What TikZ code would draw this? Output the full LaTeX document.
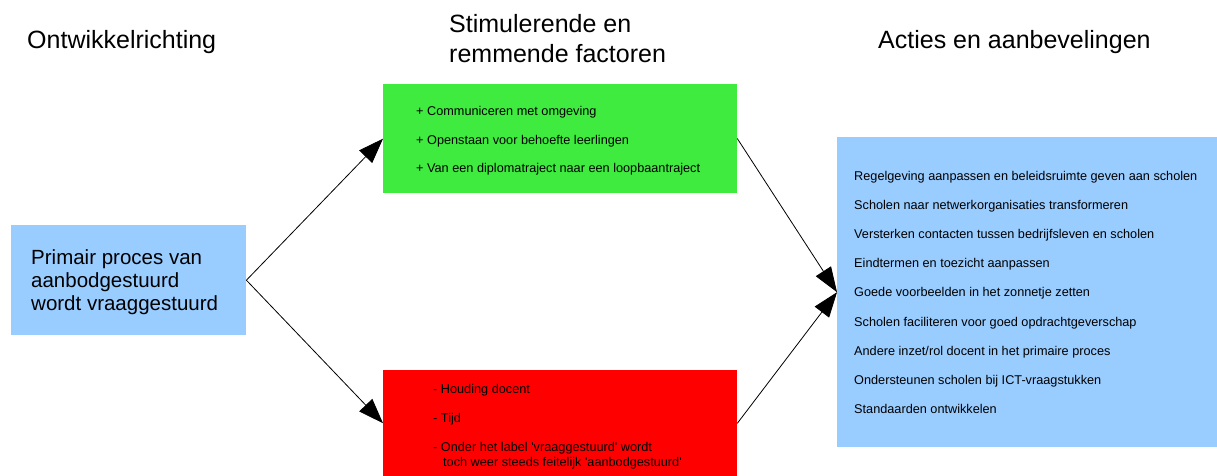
\documentclass[tikz,border=0pt]{standalone}
\usepackage{fontspec}
\setmainfont{Liberation Sans}
\usetikzlibrary{arrows.meta}
\definecolor{lichtblauw}{RGB}{153,204,255}
\definecolor{groen}{RGB}{62,235,62}
\definecolor{rood}{RGB}{255,0,0}
\tikzset{
  blok/.style={rectangle,inner sep=0pt,anchor=north west},
  kop/.style={anchor=base west,inner sep=0pt,font=\fontsize{25}{30}\selectfont},
  item/.style={anchor=base west,inner sep=0pt,font=\fontsize{12.7}{15}\selectfont},
  bron tekst/.style={anchor=base west,inner sep=0pt,font=\fontsize{20.5}{23}\selectfont}
}

\begin{document}
\begin{tikzpicture}[line cap=round,line join=round,>={Triangle[length=25pt,width=18pt]},x=1pt,y=-1pt]
    \useasboundingbox (0,0) rectangle (1217,475);
    \node[kop] (kop1) at (27,48) {Ontwikkelrichting};
    \node[kop] (kop2a) at (449,32) {Stimulerende en};
    \node[kop] (kop2b) at (449,62) {remmende factoren};
    \node[kop] (kop3) at (878,48) {Acties en aanbevelingen};
    \node[blok,fill=lichtblauw,minimum width=235,minimum height=110] (bron) at (11,225) {};
    \node[blok,fill=groen,minimum width=354,minimum height=109] (stim) at (383,84) {};
    \node[blok,fill=rood,minimum width=354,minimum height=106] (rem) at (383,370) {};
    \node[blok,fill=lichtblauw,minimum width=380,minimum height=310] (actie) at (837,137) {};
    \node[bron tekst] (bron1) at (31,264) {Primair proces van};
    \node[bron tekst] (bron2) at (31,287) {aanbodgestuurd};
    \node[bron tekst] (bron3) at (31,310) {wordt vraaggestuurd};
    \foreach \t [count=\i] in {Communiceren met omgeving,Openstaan voor behoefte leerlingen,Van een diplomatraject naar een loopbaantraject}
    \node[item] (stim\i) at (416,{87+28.5*\i}) {+ \t};
    \node[item] (rem1) at (433,393.5) {- Houding docent};
    \node[item] (rem2) at (433,422.5) {- Tijd};
    \node[item] (rem3) at (433,451.5) {- Onder het label \textquotesingle vraaggestuurd\textquotesingle\ wordt};
    \node[item] (rem4) at (443,466.5) {toch weer steeds feitelijk \textquotesingle aanbodgestuurd\textquotesingle};
    \foreach \t [count=\i] in {Regelgeving aanpassen en beleidsruimte geven aan scholen,Scholen naar netwerkorganisaties transformeren,Versterken contacten tussen bedrijfsleven en scholen,Eindtermen en toezicht aanpassen,Goede voorbeelden in het zonnetje zetten,Scholen faciliteren voor goed opdrachtgeverschap,Andere inzet/rol docent in het primaire proces,Ondersteunen scholen bij ICT-vraagstukken,Standaarden ontwikkelen}
    \node[item] (actie\i) at (854,{151.4+29.1*\i}) {\t};
    \draw[->,line width=0.8pt] (bron.east) -- (stim.west);
    \draw[->,line width=0.8pt] (bron.east) -- (rem.west);
    \draw[->,line width=0.8pt] (stim.east) -- (actie.west);
    \draw[->,line width=0.8pt] (rem.east) -- (actie.west);
\end{tikzpicture}
\end{document}
